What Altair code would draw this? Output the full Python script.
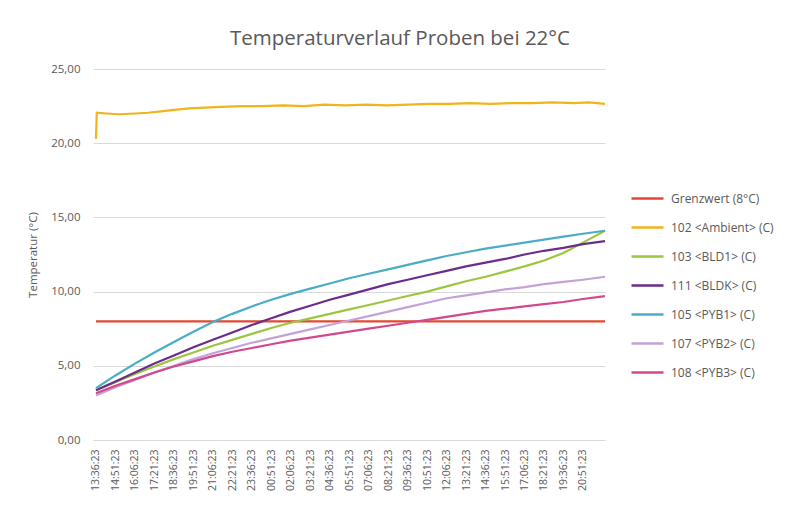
import json
import altair as alt
import pandas as pd

title_text = "Temperaturverlauf Proben bei 22°C"
y_title = "Temperatur (°C)"

series_names = ["Grenzwert (8°C)", "102 <Ambient> (C)", "103 <BLD1> (C)", "111 <BLDK> (C)",
                "105 <PYB1> (C)", "107 <PYB2> (C)", "108 <PYB3> (C)"]
series_colors = ["#e2492f", "#f0b41c", "#9cc63f", "#6b2d8c", "#4bacc6", "#c4a2d8", "#d2488f"]

# x axis: minutes since 13:36:23
tick_offsets = [0, 75, 150, 225, 300, 375, 450, 525, 600, 675, 750, 825, 900,
                975, 1050, 1125, 1200, 1275, 1350, 1425, 1500, 1575, 1650, 1725, 1800, 1875]
tick_labels = ["13:36:23", "14:51:23", "16:06:23", "17:21:23", "18:36:23", "19:51:23",
               "21:06:23", "22:21:23", "23:36:23", "00:51:23", "02:06:23", "03:21:23",
               "04:36:23", "05:51:23", "07:06:23", "08:21:23", "09:36:23", "10:51:23",
               "12:06:23", "13:21:23", "14:36:23", "15:51:23", "17:06:23", "18:21:23",
               "19:36:23", "20:51:23"]

sample_offsets = [0, 75, 150, 225, 300, 375, 450, 525, 600, 675, 750, 825, 900,
                  975, 1050, 1125, 1200, 1275, 1350, 1425, 1500, 1575, 1650, 1725, 1800, 1875, 1960]

bld1 = [3.35, 3.9, 4.45, 4.95, 5.45, 5.9, 6.35, 6.75, 7.15, 7.55, 7.9, 8.2, 8.5,
        8.8, 9.1, 9.4, 9.7, 10.0, 10.35, 10.7, 11.0, 11.35, 11.7, 12.1, 12.6, 13.3, 14.1]
bldk = [3.35, 3.95, 4.55, 5.15, 5.7, 6.25, 6.75, 7.25, 7.75, 8.2, 8.65, 9.05, 9.45,
        9.8, 10.15, 10.5, 10.8, 11.1, 11.4, 11.7, 11.95, 12.2, 12.5, 12.75, 12.95, 13.2, 13.4]
pyb1 = [3.5, 4.35, 5.15, 5.9, 6.6, 7.3, 7.95, 8.5, 9.0, 9.45, 9.85, 10.2, 10.55,
        10.9, 11.2, 11.5, 11.8, 12.1, 12.4, 12.65, 12.9, 13.1, 13.3, 13.5, 13.7, 13.9, 14.1]
pyb2 = [3.0, 3.55, 4.05, 4.55, 5.0, 5.45, 5.85, 6.2, 6.55, 6.85, 7.15, 7.45, 7.75,
        8.05, 8.35, 8.65, 8.95, 9.25, 9.55, 9.75, 9.95, 10.15, 10.3, 10.5, 10.65, 10.8, 11.0]
pyb3 = [3.15, 3.65, 4.1, 4.55, 4.95, 5.3, 5.65, 5.95, 6.2, 6.45, 6.7, 6.9, 7.1,
        7.3, 7.5, 7.7, 7.9, 8.1, 8.3, 8.5, 8.7, 8.85, 9.0, 9.15, 9.3, 9.5, 9.7]

ambient_offsets = [0, 3, 40, 90, 150, 200, 250, 300, 360, 420, 480, 560, 640, 720, 800,
                   880, 960, 1040, 1120, 1200, 1280, 1360, 1440, 1520, 1600, 1680, 1760,
                   1840, 1900, 1960]
ambient_values = [20.3, 22.05, 22.0, 21.95, 22.0, 22.05, 22.15, 22.25, 22.35, 22.4, 22.45,
                  22.5, 22.5, 22.55, 22.5, 22.6, 22.55, 22.6, 22.55, 22.6, 22.65, 22.65,
                  22.7, 22.65, 22.7, 22.7, 22.75, 22.7, 22.75, 22.65]

limit_offsets = [0, 1960]
limit_values = [8.0, 8.0]

rows = []
def add(name, offs, vals):
    for t, v in zip(offs, vals):
        rows.append({"s": name, "t": t, "v": v})

add(series_names[0], limit_offsets, limit_values)
add(series_names[1], ambient_offsets, ambient_values)
add(series_names[2], sample_offsets, bld1)
add(series_names[3], sample_offsets, bldk)
add(series_names[4], sample_offsets, pyb1)
add(series_names[5], sample_offsets, pyb2)
add(series_names[6], sample_offsets, pyb3)
df = pd.DataFrame(rows)

label_expr = json.dumps(tick_labels) + "[round(datum.value / 75)]"
font = "Open Sans"
text_color = "#595959"

chart = alt.Chart(df).mark_line(strokeWidth=2.2).encode(
    x=alt.X("t:Q",
            scale=alt.Scale(domain=[-11.5, 1960], nice=False, zero=False),
            axis=alt.Axis(values=tick_offsets, labelExpr=label_expr, labelAngle=270,
                          grid=False, ticks=False, domain=True, domainColor="#d9d9d9",
                          labelPadding=9, labelFontSize=10.5, labelColor=text_color,
                          labelFont=font, labelOverlap=False, title=None)),
    y=alt.Y("v:Q",
            scale=alt.Scale(domain=[0, 25], nice=False),
            axis=alt.Axis(values=[0, 5, 10, 15, 20, 25],
                          labelExpr="replace(format(datum.value, '.2f'), '.', ',')",
                          grid=True, gridColor="#d9d9d9", domain=False, ticks=False,
                          labelPadding=13, labelFontSize=11.5, labelColor=text_color,
                          labelFont=font, title=y_title, titleFont=font,
                          titleFontSize=11.5, titleFontWeight="normal", titleColor=text_color,
                          titlePadding=12)),
    color=alt.Color("s:N",
                    scale=alt.Scale(domain=series_names, range=series_colors),
                    legend=alt.Legend(orient="none", legendX=543, legendY=118, padding=0,
                                      title=None, symbolType="M-1.6,0L1.6,0",
                                      symbolSize=400, symbolStrokeWidth=2.5,
                                      labelOffset=12, rowPadding=11, labelFontSize=12,
                                      labelColor=text_color, labelFont=font,
                                      labelLimit=300)),
    order=alt.Order("t:Q"),
).properties(
    width=512,
    height=371,
    autosize=alt.AutoSizeParams(type="none"),
    padding={"left": 85, "top": 61, "right": 180, "bottom": 60},
    background="white",
    title=alt.TitleParams(title_text, anchor="middle", frame="group", dx=51, offset=14,
                          font=font, fontSize=20.5, fontWeight="normal", color=text_color),
).configure_view(stroke=None)

chart.save("out.html", embed_options={"renderer": "svg", "actions": False})
